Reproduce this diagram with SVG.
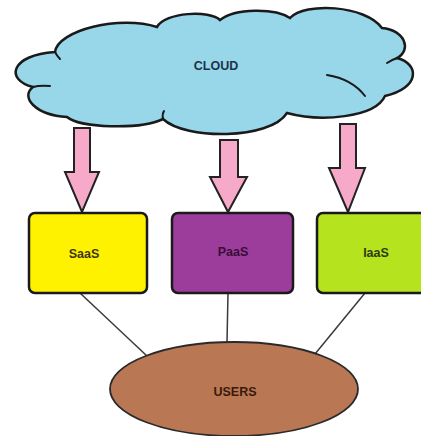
<svg xmlns="http://www.w3.org/2000/svg" width="421" height="436" viewBox="0 0 421 436">
  <style>
    .lbl { font-family: "Liberation Sans", Arial, sans-serif; font-weight: bold; font-size: 12.5px; text-anchor: middle; dominant-baseline: central; }
    .arrow { fill: #f7a9c9; stroke: #222; stroke-width: 2; stroke-linejoin: miter; }
    .box { stroke: #1a1a1a; stroke-width: 2.5; }
    .link { stroke: #3a3a3a; stroke-width: 1.5; fill: none; }
    .tail { fill: none; stroke: #1a1a1a; stroke-width: 2; stroke-linecap: round; }
  </style>

  <!-- delivery arrows from the cloud -->
  <g id="arrows">
    <polygon class="arrow" points="74,128 90,128 90,172 99,172 82,212 65,172 74,172"/>
    <polygon class="arrow" points="220,140 238,140 238,177 247,177 228,212 210,177 220,177"/>
    <polygon class="arrow" points="340,124 356,124 356,168 365,168 348,212 329,168 340,168"/>
  </g>

  <g id="cloud">
    <path d="M55,52
             C58,30 120,15 157,27
             C165,12 210,10 220,20
             C235,8 275,8 290,18
             C305,2 365,5 382,28
             C405,30 412,50 397,58
             C420,64 420,88 385,96
             C375,118 320,122 287,113
             C270,140 185,140 163,119
             C140,130 80,128 67,117
             C35,115 20,97 33,87
             C5,80 10,55 55,52 Z"
          fill="#98d6e9" stroke="#1a1a1a" stroke-width="2.5"/>
    <path class="tail" d="M327,75 Q352,79 365,96"/>
    <path class="tail" d="M387,63 Q393,59 398,58"/>
    <path class="tail" d="M55,52 Q57,56 60,59"/>
    <path class="tail" d="M33,87 Q40,85 50,86"/>
    <path class="tail" d="M163,119 Q162,114 164,111"/>
    <text class="lbl" x="216" y="66" fill="#1d3348">CLOUD</text>
  </g>

  <!-- links from services to users -->
  <g id="connectors">
    <line class="link" x1="80" y1="293" x2="147" y2="356"/>
    <line class="link" x1="228" y1="293" x2="227" y2="342"/>
    <line class="link" x1="365" y1="293" x2="315" y2="354"/>
  </g>

  <g id="saas">
    <rect class="box" x="29" y="213" width="118" height="80" rx="6" fill="#fff200"/>
    <text class="lbl" x="84" y="254" fill="#3b3616">SaaS</text>
  </g>

  <g id="paas">
    <rect class="box" x="172" y="213" width="121" height="80" rx="6" fill="#9c3d9c"/>
    <text class="lbl" x="233" y="252" fill="#3a0c38">PaaS</text>
  </g>

  <g id="iaas">
    <rect class="box" x="317" y="213" width="120" height="80" rx="6" fill="#b5e41e"/>
    <text class="lbl" x="376" y="253" fill="#2f3a12">IaaS</text>
  </g>

  <g id="users">
    <ellipse cx="234" cy="389" rx="124" ry="47" fill="#b97754" stroke="#2a2a2a" stroke-width="1.8"/>
    <text class="lbl" x="235" y="392" fill="#3a1a0c">USERS</text>
  </g>
</svg>
